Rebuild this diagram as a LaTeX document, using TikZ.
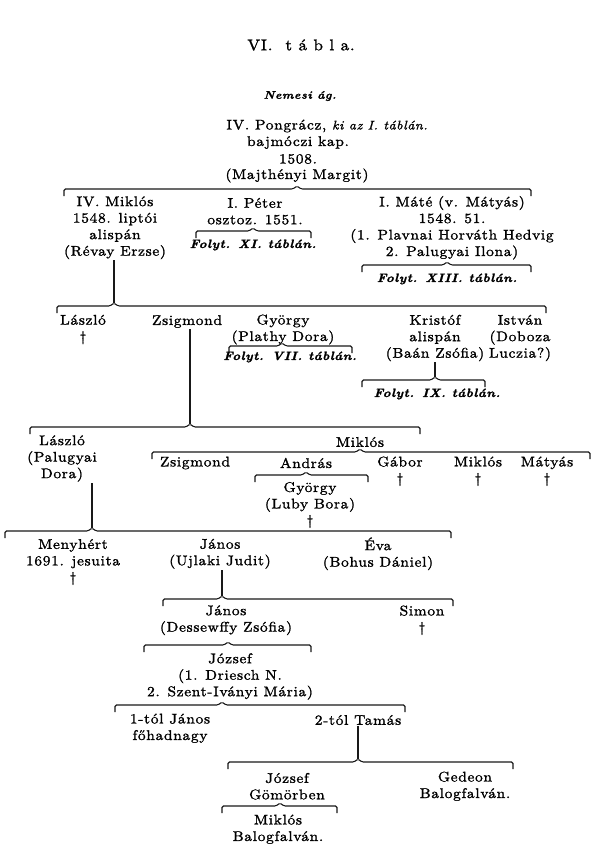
\documentclass[tikz,border=0pt]{standalone}
\usepackage{fontspec}
\setmainfont{lmroman10}[Extension=.otf, UprightFont=*-regular, ItalicFont=*-italic, BoldFont=*-bold, BoldItalicFont=*-bolditalic, FakeStretch=1.1, LetterSpace=5, FakeBold=1.5]
\begin{document}
\begin{tikzpicture}[x=1pt,y=-1pt,
  t/.style={align=center, inner sep=1pt, text=black, font=\fontsize{14}{16.5}\selectfont},
  fol/.style={inner sep=1pt, text=black, font=\fontsize{12}{14}\selectfont\bfseries\itshape},
  brk/.style={line width=1.1pt, black!90, rounded corners=1.5pt},
  link/.style={line width=1.1pt, black!90}]
\useasboundingbox[fill=white] (0,0) rectangle (601,862);
\newcommand\brak[5]{%
  \coordinate (#1) at (#4,#5-3);
  \draw[brk] (#2,#5+7) -- (#2,#5) -- (#4-4,#5) -- (#1) -- (#4+4,#5) -- (#3,#5) -- (#3,#5+7);
}
% title
\node[t, font=\fontsize{15.5}{17}\selectfont] (title) at (301,45) {VI.~~t á b l a.};
\node[fol, font=\fontsize{11}{13}\selectfont\bfseries\itshape] (nem) at (300,96) {Nemesi ág.};
\node[t] (pong1) at (327,126) {IV. Pongrácz, {\fontsize{12.5}{14}\selectfont\itshape ki az I. táblán.}};
\node[t] (pong2) at (298,142.5) {bajmóczi kap.};
\node[t] (pong3) at (298,159) {1508.};
\node[t] (pong4) at (297,175.5) {(Majthényi Margit)};
\brak{p1}{64}{531}{297}{189}
% generation 2
\node[t] (miklos4) at (115,227.75) {IV. Miklós\\1548. liptói\\alispán\\(Révay Erzse)};
\node[t] (peter) at (255,211.25) {I. Péter\\osztoz. 1551.};
\brak{ppeter}{196}{311}{253}{231}
\node[fol] (folyt11) at (253,245) {Folyt. XI. táblán.};
\node[t] (mate) at (452,227.75) {I. Máté (v. Mátyás)\\1548. 51.\\(1. Plavnai Horváth Hedvig\\2. Palugyai Ilona)};
\brak{pmate}{362}{531}{447}{265}
\node[fol] (folyt13) at (447,279) {Folyt. XIII. táblán.};
\brak{p2}{57}{546}{114}{306}
\draw[link] (p2) -- (p2 |- miklos4.south);
% generation 3
\node[t] (laszlo1) at (83,329.5) {László\\†};
\node[t] (zsig1) at (187,321.5) {Zsigmond};
\node[t] (gyorgy1) at (283,329.5) {György\\(Plathy Dora)};
\brak{pgy}{229}{352}{282}{346}
\node[fol] (folyt7) at (290,357) {Folyt. VII. táblán.};
\node[t] (kristof) at (435,338) {Kristóf\\alispán\\(Baán Zsófia)};
\brak{pkr}{362}{485}{435}{380}
\draw[link] (pkr) -- (pkr |- kristof.south);
\node[fol] (folyt9) at (437,394) {Folyt. IX. táblán.};
\node[t] (istvan) at (520,338) {István\\(Doboza\\Luczia?)};
\brak{p3}{30}{420}{190}{427}
\draw[link] (p3) -- (p3 |- zsig1.south);
% generation 4
\node[t] (laszlo2) at (62,458.5) {László\\(Palugyai\\Dora)};
\node[t] (miklos5) at (360,442) {Miklós};
\brak{p4}{152}{590}{360}{452}
\node[t] (zsig2) at (195,463) {Zsigmond};
\node[t] (andras) at (306,463) {András};
\brak{pand}{255}{368}{306}{475}
\node[t] (gyorgy2) at (310,505) {György\\(Luby Bora)\\†};
\node[t] (gabor) at (400,471.25) {Gábor\\†};
\node[t] (miklos6) at (478,471.25) {Miklós\\†};
\node[t] (matyas) at (547,471.25) {Mátyás\\†};
\brak{p5}{5}{451}{92}{531}
\draw[link] (p5) -- (p5 |- laszlo2.south);
% generation 5
\node[t] (menyhert) at (73,562) {Menyhért\\1691. jesuita\\†};
\node[t] (janos1) at (220,553.75) {János\\(Ujlaki Judit)};
\node[t] (eva) at (378,553.75) {Éva\\(Bohus Dániel)};
\brak{p6}{163}{453}{222}{599}
\draw[link] (p6) -- (p6 |- janos1.south);
% generation 6
\node[t] (janos2) at (226,620.25) {János\\(Dessewffy Zsófia)};
\node[t] (simon) at (422,620.25) {Simon\\†};
\brak{p7}{144}{311}{228}{645}
\node[t] (jozsef1) at (230,676.5) {József\\(1. Driesch N.\\2. Szent-Iványi Mária)};
\brak{p8}{115}{405}{222}{705}
\node[t] (janos3) at (170,728.25) {1-tól János\\főhadnagy};
\node[t] (tamas) at (358,720) {2-tól Tamás};
\brak{p9}{228}{513}{358}{762}
\draw[link] (p9) -- (p9 |- tamas.south);
\node[t] (jozsef2) at (287,786.25) {József\\Gömörben};
\node[t] (gedeon) at (465,786.25) {Gedeon\\Balogfalván.};
\brak{p10}{222}{337}{280}{806}
\node[t] (miklos7) at (278,829.25) {Miklós\\Balogfalván.};
\end{tikzpicture}
\end{document}
